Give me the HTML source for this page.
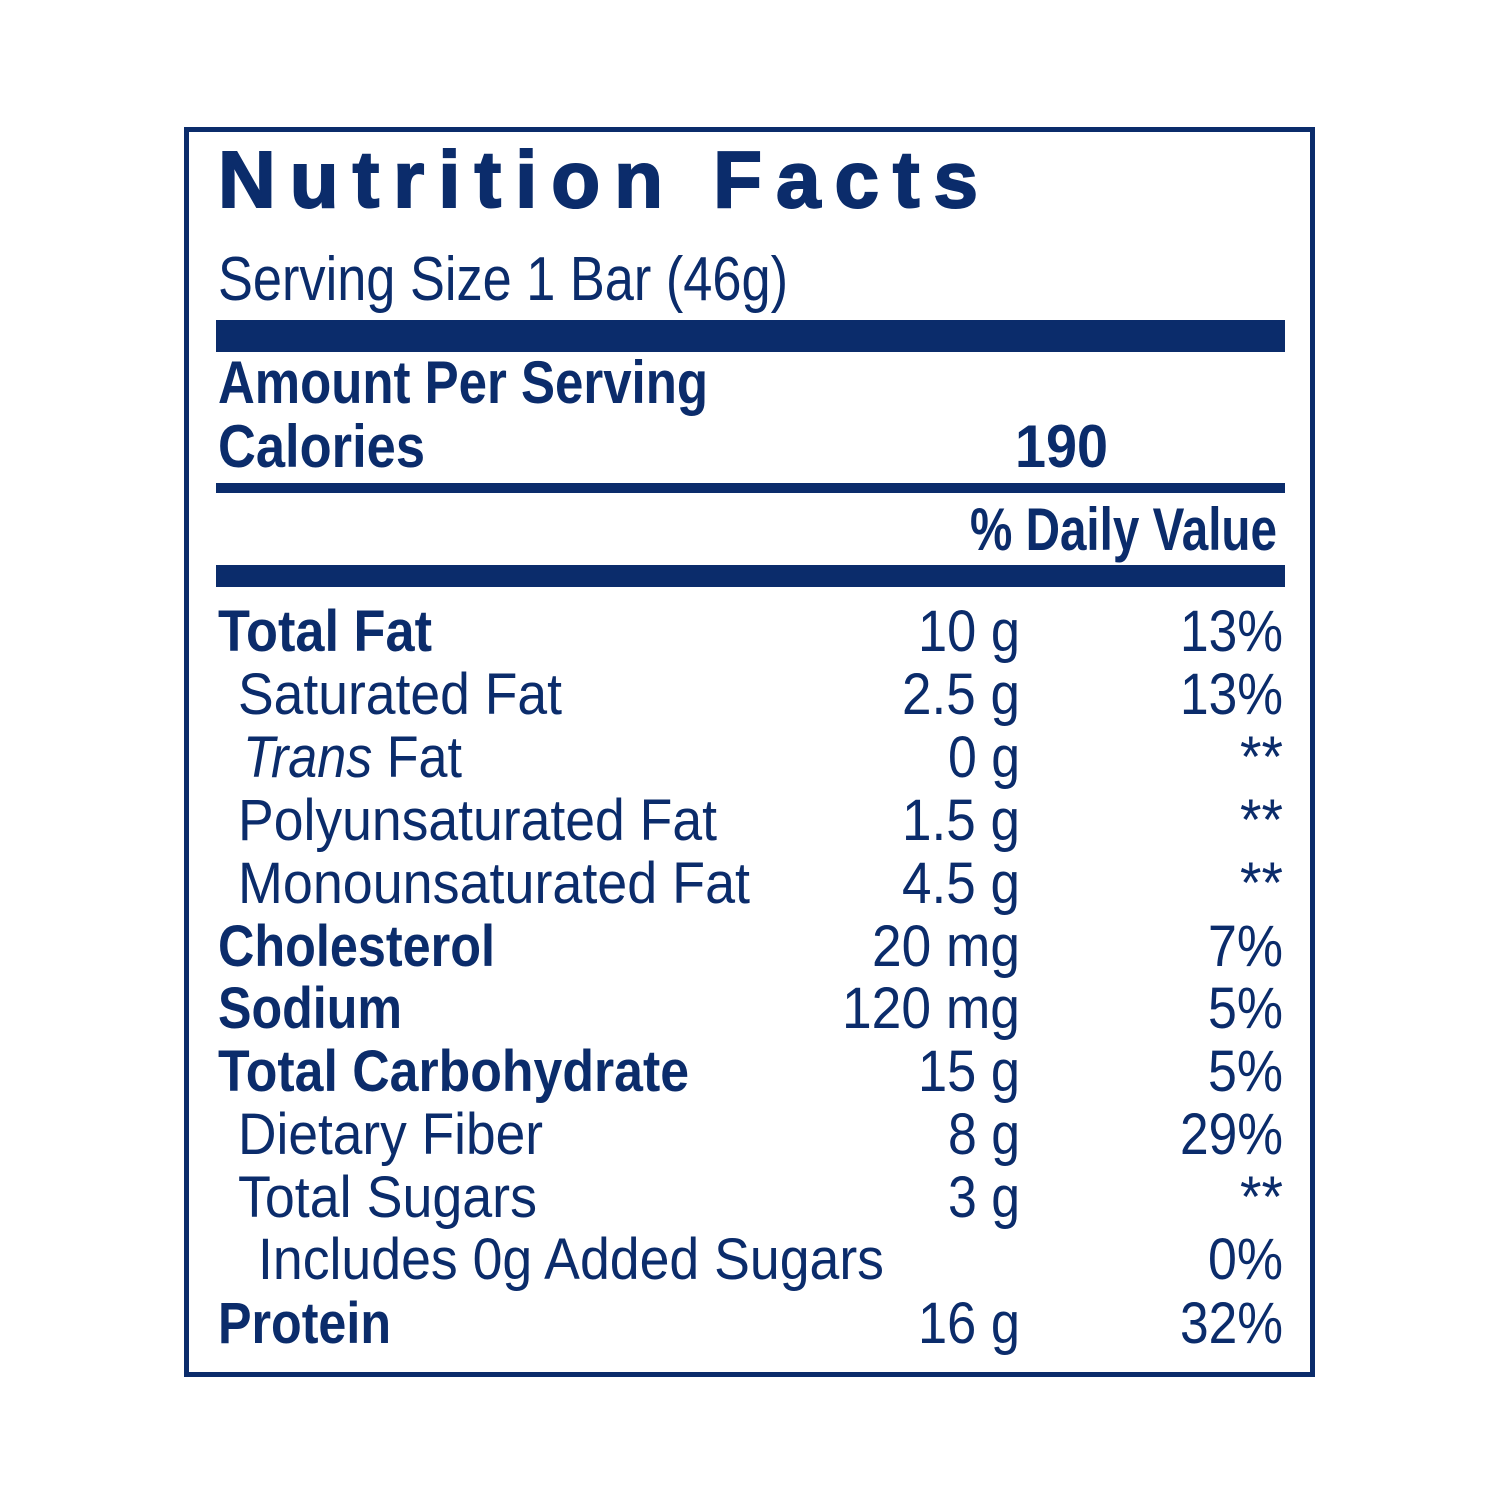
<!DOCTYPE html>
<html><head><meta charset="utf-8"><style>
html,body{margin:0;padding:0;background:#fff;width:1500px;height:1500px;overflow:hidden}
text{font-family:"Liberation Sans",Arial,sans-serif;fill:#0b2c6b}
.b{font-weight:bold}
</style></head><body>
<svg width="1500" height="1500" viewBox="0 0 1500 1500" xmlns="http://www.w3.org/2000/svg">
<rect x="186.5" y="129.5" width="1126" height="1245" fill="none" stroke="#0b2c6b" stroke-width="5"/>
<rect x="216" y="320" width="1069" height="32" fill="#0b2c6b"/>
<rect x="216" y="483" width="1069" height="10" fill="#0b2c6b"/>
<rect x="216" y="565" width="1069" height="22" fill="#0b2c6b"/>
<text class="b" x="218" y="207" font-size="80" stroke="#0b2c6b" stroke-width="2" textLength="760" lengthAdjust="spacing">Nutrition Facts</text>
<text x="218" y="300" font-size="62" textLength="570" lengthAdjust="spacingAndGlyphs">Serving Size 1 Bar (46g)</text>
<text class="b" x="218" y="403" font-size="60" textLength="490" lengthAdjust="spacingAndGlyphs">Amount Per Serving</text>
<text class="b" x="218" y="467" font-size="60" textLength="207" lengthAdjust="spacingAndGlyphs">Calories</text>
<text class="b" x="1108" y="467" font-size="60" text-anchor="end" textLength="93" lengthAdjust="spacingAndGlyphs">190</text>
<text class="b" x="1277" y="550" font-size="60" text-anchor="end" textLength="307" lengthAdjust="spacingAndGlyphs">% Daily Value</text>

<g font-size="58">
<text class="b" x="218" y="651" textLength="214" lengthAdjust="spacingAndGlyphs">Total Fat</text>
<text x="1020" y="651" text-anchor="end" textLength="102" lengthAdjust="spacingAndGlyphs">10 g</text>
<text x="1283" y="651" text-anchor="end" textLength="103" lengthAdjust="spacingAndGlyphs">13%</text>

<text x="238" y="714" textLength="324" lengthAdjust="spacingAndGlyphs">Saturated Fat</text>
<text x="1020" y="714" text-anchor="end" textLength="118" lengthAdjust="spacingAndGlyphs">2.5 g</text>
<text x="1283" y="714" text-anchor="end" textLength="103" lengthAdjust="spacingAndGlyphs">13%</text>

<text x="243" y="777" textLength="219" lengthAdjust="spacingAndGlyphs"><tspan font-style="italic">Trans</tspan> Fat</text>
<text x="1020" y="777" text-anchor="end" textLength="72" lengthAdjust="spacingAndGlyphs">0 g</text>
<text x="1283" y="777" text-anchor="end" textLength="43" lengthAdjust="spacingAndGlyphs">**</text>

<text x="238" y="840" textLength="479" lengthAdjust="spacingAndGlyphs">Polyunsaturated Fat</text>
<text x="1020" y="840" text-anchor="end" textLength="118" lengthAdjust="spacingAndGlyphs">1.5 g</text>
<text x="1283" y="840" text-anchor="end" textLength="43" lengthAdjust="spacingAndGlyphs">**</text>

<text x="238" y="903" textLength="512" lengthAdjust="spacingAndGlyphs">Monounsaturated Fat</text>
<text x="1020" y="903" text-anchor="end" textLength="118" lengthAdjust="spacingAndGlyphs">4.5 g</text>
<text x="1283" y="903" text-anchor="end" textLength="43" lengthAdjust="spacingAndGlyphs">**</text>

<text class="b" x="218" y="966" textLength="277" lengthAdjust="spacingAndGlyphs">Cholesterol</text>
<text x="1020" y="966" text-anchor="end" textLength="148" lengthAdjust="spacingAndGlyphs">20 mg</text>
<text x="1283" y="966" text-anchor="end" textLength="75" lengthAdjust="spacingAndGlyphs">7%</text>

<text class="b" x="218" y="1028" textLength="184" lengthAdjust="spacingAndGlyphs">Sodium</text>
<text x="1020" y="1028" text-anchor="end" textLength="178" lengthAdjust="spacingAndGlyphs">120 mg</text>
<text x="1283" y="1028" text-anchor="end" textLength="75" lengthAdjust="spacingAndGlyphs">5%</text>

<text class="b" x="218" y="1091" textLength="471" lengthAdjust="spacingAndGlyphs">Total Carbohydrate</text>
<text x="1020" y="1091" text-anchor="end" textLength="102" lengthAdjust="spacingAndGlyphs">15 g</text>
<text x="1283" y="1091" text-anchor="end" textLength="75" lengthAdjust="spacingAndGlyphs">5%</text>

<text x="238" y="1154" textLength="305" lengthAdjust="spacingAndGlyphs">Dietary Fiber</text>
<text x="1020" y="1154" text-anchor="end" textLength="72" lengthAdjust="spacingAndGlyphs">8 g</text>
<text x="1283" y="1154" text-anchor="end" textLength="103" lengthAdjust="spacingAndGlyphs">29%</text>

<text x="238" y="1217" textLength="299" lengthAdjust="spacingAndGlyphs">Total Sugars</text>
<text x="1020" y="1217" text-anchor="end" textLength="72" lengthAdjust="spacingAndGlyphs">3 g</text>
<text x="1283" y="1217" text-anchor="end" textLength="43" lengthAdjust="spacingAndGlyphs">**</text>

<text x="258" y="1279" textLength="626" lengthAdjust="spacingAndGlyphs">Includes 0g Added Sugars</text>
<text x="1283" y="1279" text-anchor="end" textLength="75" lengthAdjust="spacingAndGlyphs">0%</text>

<text class="b" x="218" y="1343" textLength="173" lengthAdjust="spacingAndGlyphs">Protein</text>
<text x="1020" y="1343" text-anchor="end" textLength="102" lengthAdjust="spacingAndGlyphs">16 g</text>
<text x="1283" y="1343" text-anchor="end" textLength="103" lengthAdjust="spacingAndGlyphs">32%</text>
</g>
</svg>
</body></html>
